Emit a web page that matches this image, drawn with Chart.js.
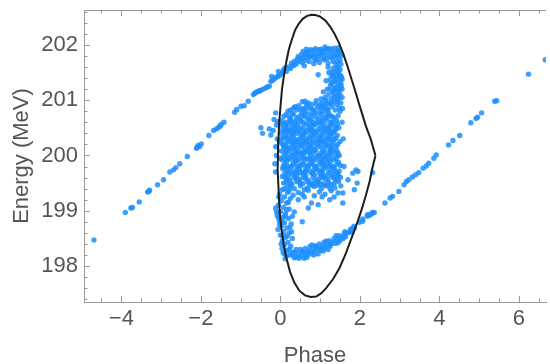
<!DOCTYPE html>
<html lang="en">
<head>
<meta charset="UTF-8">
<title>Phase space</title>
<script src="https://cdn.jsdelivr.net/npm/chart.js"></script>
<style>
  body { margin: 0; background: #fff; }
  #chart { display: block; }
</style>
</head>
<body>
<canvas id="chart" width="550" height="364"></canvas>
<script>
// axis ticks
const xTickLabels = [-4, -2, 0, 2, 4, 6];
const yTickLabels = [198, 199, 200, 201, 202];

// separatrix (black closed curve)
const separatrix = [
  [2.39,200.0],[2.27,200.3],[2.15,200.53],[2.07,200.72],[1.97,200.95],[1.88,201.17],[1.78,201.4],
  [1.68,201.63],[1.58,201.84],[1.47,202.04],[1.36,202.2],[1.25,202.33],[1.13,202.44],[1.0,202.51],
  [0.88,202.54],[0.78,202.545],[0.66,202.52],[0.56,202.47],[0.46,202.38],[0.37,202.27],[0.29,202.1],
  [0.21,201.91],[0.15,201.7],[0.09,201.45],[0.04,201.2],[0.01,200.95],[-0.03,200.6],[-0.05,200.3],
  [-0.06,200.0],[-0.07,199.75],[-0.05,199.45],[-0.03,199.15],[-0.01,198.9],[0.03,198.65],
  [0.08,198.4],[0.15,198.15],[0.24,197.9],[0.35,197.7],[0.48,197.55],[0.62,197.47],[0.76,197.44],
  [0.9,197.45],[1.03,197.51],[1.15,197.6],[1.33,197.77],[1.49,197.97],[1.63,198.2],[1.76,198.45],
  [1.86,198.64],[1.96,198.84],[2.06,199.06],[2.15,199.28],[2.24,199.52],[2.31,199.76],[2.39,200.0]
];

// particles: long arm on the left
const leftArm = [
  [-4.69,198.47],[-3.90,198.97],[-3.76,199.05],[-3.72,199.06],[-3.55,199.16],[-3.34,199.34],[-3.31,199.35],
  [-3.29,199.37],[-3.09,199.47],[-2.94,199.56],[-2.78,199.70],[-2.69,199.74],[-2.63,199.78],[-2.53,199.85],
  [-2.34,199.98],[-2.11,200.13],[-2.09,200.15],[-2.07,200.18],[-2.03,200.16],[-1.99,200.21],[-1.80,200.36],
  [-1.68,200.45],[-1.61,200.48],[-1.55,200.51],[-1.52,200.53],[-1.49,200.56],[-1.42,200.60],[-1.15,200.78],
  [-1.10,200.83],[-0.99,200.89],[-0.91,200.90],[-0.81,200.98],[-0.68,201.10],[-0.65,201.12],[-0.62,201.14],
  [-0.58,201.15],[-0.55,201.16],[-0.52,201.17],[-0.49,201.18],[-0.43,201.20],[-0.37,201.22],[-0.33,201.24],
  [-0.28,201.25],[-0.24,201.34],[-0.20,201.36],[-0.16,201.38],[-0.11,201.41],[-0.07,201.43],[-0.03,201.44],
  [0.01,201.47]
];

// particles: long arm on the right
const rightArm = [
  [1.74,198.61],[1.76,198.66],[1.78,198.63],[1.80,198.62],[1.81,198.68],[1.85,198.72],[1.86,198.69],
  [1.99,198.79],[2.07,198.81],[2.07,198.85],[2.19,198.90],[2.19,198.93],[2.24,198.92],[2.28,198.94],
  [2.30,198.95],[2.32,198.97],[2.36,198.97],[2.63,199.14],[2.76,199.23],[2.82,199.26],[2.98,199.35],
  [3.11,199.47],[3.17,199.53],[3.23,199.56],[3.32,199.61],[3.40,199.65],[3.48,199.69],[3.59,199.77],
  [3.67,199.81],[3.73,199.86],[3.86,199.95],[3.92,200.01],[4.23,200.19],[4.34,200.27],[4.51,200.36],
  [4.79,200.59],[4.92,200.67],[4.96,200.69],[5.06,200.77],[5.39,200.98],[5.44,200.99],[6.24,201.47],
  [6.66,201.73]
];

// particles: upper arc inside the bucket
const topArc = [
  [-0.22,201.43],[-0.05,201.52],[0.05,201.5],[0.08,201.55],[0.12,201.58],[0.15,201.52],[0.2,201.6],
  [0.25,201.57],[0.28,201.67],[0.3,201.62],[0.35,201.7],[0.35,201.63],[0.4,201.66],[0.42,201.74],
  [0.45,201.79],[0.48,201.7],[0.5,201.76],[0.53,201.82],[0.55,201.68],[0.57,201.88],[0.58,201.77],
  [0.6,201.62],[0.62,201.72],[0.62,201.84],[0.65,201.92],[0.66,201.84],[0.68,201.78],[0.7,201.88],
  [0.72,201.7],[0.74,201.79],[0.76,201.91],[0.78,201.85],[0.8,201.78],[0.82,201.9],[0.84,201.66],
  [0.86,201.8],[0.87,201.73],[0.88,201.93],[0.9,201.86],[0.92,201.73],[0.94,201.8],[0.97,201.91],
  [0.98,201.68],[1.0,201.84],[1.02,201.92],[1.04,201.76],[1.05,201.83],[1.07,201.88],[1.1,201.73],
  [1.11,201.91],[1.12,201.96],[1.14,201.82],[1.16,201.75],[1.18,201.93],[1.2,201.67],[1.22,201.86],
  [1.23,201.93],[1.25,201.78],[1.28,201.92],[1.3,201.76],[1.31,201.84],[1.33,201.7],[1.36,201.94],
  [1.36,201.8],[1.39,201.88],[1.41,201.78],[1.43,201.7],[1.44,201.9],[1.45,201.58],[1.46,201.95],
  [1.47,201.83],[1.49,201.88],[1.5,201.72],[1.52,201.8],[1.52,201.65],[0.95,201.46]
];

// particles: column on the right side of the bucket, above the core
const rightColumn = [
  [1.45,201.52],[1.38,201.5],[1.5,201.45],[1.42,201.42],[1.33,201.44],[1.48,201.36],[1.4,201.33],
  [1.52,201.3],[1.3,201.3],[1.45,201.27],[1.36,201.22],[1.5,201.2],[1.24,201.2],[1.42,201.16],
  [1.31,201.13],[1.5,201.1],[1.2,201.1],[1.38,201.07],[1.46,201.02],[1.27,201.02],[1.14,201.0],
  [1.35,200.97],[1.52,200.95],[1.22,200.93],[1.42,200.92],[1.3,200.88],[1.1,200.9],[1.48,200.86],
  [1.18,200.84],[1.38,200.82],[1.55,201.38],[1.25,201.37],[1.44,201.6],[1.34,201.58],
  [1.12,201.05],[1.18,201.2],[1.15,201.35],[1.22,201.5],[1.28,201.45],[1.35,201.35],[1.26,201.28],
  [1.33,201.16],[1.4,201.22],[1.47,201.15],[1.55,201.05],[1.44,201.08],[1.28,200.95],[1.34,201.05],
  [1.52,201.4],[1.55,201.2],[1.47,201.47],[1.38,201.4],[1.3,201.52],[1.5,201.55],[1.08,201.15],
  [1.16,200.95],[1.02,201.02],[1.2,201.6],[1.4,201.65],[1.56,200.85],[1.5,200.8],[1.43,200.98],
  [1.53,201.43],[1.53,201.25],[0.62,200.98],[0.70,200.95]
];

// particles: dense core of the bucket
const core = [
  [0.55,200.97],[0.79,200.92],[0.9,200.99],[1.04,200.95],[0.33,200.86],[0.46,200.9],[0.57,200.84],
  [0.7,200.88],[0.81,200.83],[0.94,200.87],[1.02,200.84],[0.19,200.8],[0.3,200.76],[0.4,200.82],
  [0.53,200.77],[0.64,200.8],[0.74,200.75],[0.87,200.81],[0.98,200.77],[1.09,200.8],[1.21,200.76],
  [0.09,200.71],[0.23,200.69],[0.33,200.74],[0.46,200.7],[0.56,200.73],[0.69,200.67],[0.8,200.72],
  [0.9,200.69],[1.03,200.74],[1.13,200.68],[1.26,200.72],[1.35,200.67],[1.45,200.72],[0.04,200.63],
  [0.16,200.6],[0.25,200.66],[0.38,200.61],[0.5,200.65],[0.59,200.59],[0.73,200.64],[0.82,200.6],
  [0.96,200.66],[1.05,200.61],[1.18,200.64],[1.29,200.59],[1.41,200.63],[0.02,200.55],[0.13,200.52],
  [0.22,200.57],[0.35,200.53],[0.44,200.56],[0.57,200.51],[0.66,200.57],[0.79,200.53],[0.88,200.56],
  [1.01,200.52],[1.1,200.57],[1.23,200.51],[1.32,200.55],[1.43,200.57],[0.06,200.47],[0.15,200.44],
  [0.28,200.49],[0.38,200.45],[0.51,200.48],[0.6,200.43],[0.73,200.49],[0.82,200.45],[0.95,200.47],
  [1.04,200.44],[1.17,200.49],[1.26,200.45],[1.39,200.47],[0.01,200.4],[0.12,200.36],[0.21,200.41],
  [0.34,200.37],[0.43,200.4],[0.56,200.35],[0.65,200.41],[0.78,200.37],[0.87,200.4],[1.0,200.36],
  [1.09,200.41],[1.22,200.37],[1.31,200.4],[1.43,200.36],[0.07,200.32],[0.16,200.28],[0.29,200.33],
  [0.38,200.29],[0.51,200.32],[0.6,200.27],[0.73,200.33],[0.82,200.29],[0.95,200.32],[1.04,200.28],
  [1.17,200.33],[1.26,200.29],[1.39,200.31],[0.02,200.24],[0.13,200.2],[0.22,200.25],[0.35,200.21],
  [0.44,200.24],[0.57,200.19],[0.66,200.25],[0.79,200.21],[0.88,200.24],[1.01,200.2],[1.1,200.25],
  [1.23,200.21],[1.32,200.24],[1.44,200.2],[0.08,200.16],[0.17,200.12],[0.3,200.17],[0.39,200.13],
  [0.52,200.16],[0.61,200.11],[0.74,200.17],[0.83,200.13],[0.96,200.16],[1.05,200.12],[1.18,200.17],
  [1.27,200.13],[1.4,200.16],[0.03,200.08],[0.14,200.04],[0.23,200.09],[0.36,200.05],[0.45,200.08],
  [0.58,200.03],[0.67,200.09],[0.8,200.05],[0.89,200.08],[1.02,200.04],[1.11,200.09],[1.24,200.05],
  [1.33,200.08],[1.45,200.04],[0.09,200.0],[0.18,199.96],[0.31,200.01],[0.4,199.97],[0.53,200.0],
  [0.62,199.95],[0.75,200.01],[0.84,199.97],[0.97,200.0],[1.06,199.96],[1.19,200.01],[1.28,199.97],
  [1.41,200.0],[0.04,199.92],[0.15,199.88],[0.24,199.93],[0.37,199.89],[0.46,199.92],[0.59,199.87],
  [0.68,199.93],[0.81,199.89],[0.9,199.92],[1.03,199.88],[1.12,199.93],[1.25,199.89],[1.34,199.92],
  [1.46,199.88],[0.1,199.84],[0.19,199.8],[0.32,199.85],[0.41,199.81],[0.54,199.84],[0.63,199.79],
  [0.76,199.85],[0.85,199.81],[0.98,199.84],[1.07,199.8],[1.2,199.85],[1.29,199.81],[1.42,199.84],
  [0.06,199.76],[0.17,199.72],[0.26,199.77],[0.39,199.73],[0.48,199.76],[0.61,199.71],[0.7,199.77],
  [0.83,199.73],[0.92,199.76],[1.05,199.72],[1.14,199.77],[1.27,199.73],[1.36,199.76],[1.48,199.72],
  [0.11,199.68],[0.2,199.64],[0.33,199.69],[0.42,199.65],[0.55,199.68],[0.64,199.63],[0.77,199.69],
  [0.86,199.65],[0.99,199.68],[1.08,199.64],[1.21,199.69],[1.3,199.65],[1.43,199.68],[0.12,199.6],
  [0.24,199.56],[0.35,199.61],[0.48,199.57],[0.58,199.6],[0.71,199.55],[0.82,199.61],[0.95,199.57],
  [1.06,199.6],[1.19,199.56],[1.3,199.61],[1.43,199.57],[1.51,199.6],[0.15,199.52],[0.29,199.48],
  [0.41,199.53],[0.56,199.49],[0.68,199.52],[0.81,199.47],[0.93,199.53],[1.08,199.49],[1.2,199.52],
  [1.35,199.48],[1.46,199.53],[0.18,199.44],[0.35,199.4],[0.5,199.45],[0.67,199.41],[0.85,199.44],
  [1.03,199.4],[1.19,199.45],[1.37,199.41],[0.22,199.36],[0.45,199.33],[0.7,199.37],[0.98,199.34],
  [1.28,199.36],[1.45,199.32]
];

// particles: extra core points between the rows above
const coreFill = [
  [0.27,200.62],[0.61,200.7],[0.93,200.6],[1.17,200.72],[0.41,200.52],[0.76,200.45],[1.09,200.5],
  [0.18,200.33],[0.52,200.4],[0.85,200.35],[1.21,200.43],[0.31,200.22],[0.64,200.3],[1.0,200.26],
  [1.35,200.29],[0.11,200.12],[0.46,200.18],[0.79,200.1],[1.13,200.19],[0.27,200.0],[0.6,200.06],
  [0.93,199.99],[1.25,200.1],[0.4,199.9],[0.74,199.94],[1.08,199.86],[0.14,199.78],[0.5,199.82],
  [0.9,199.75],[1.23,199.8],[0.3,199.66],[0.66,199.72],[1.02,199.62],[1.38,199.7],[0.45,199.55],
  [0.77,199.5],[1.12,199.45],[0.25,199.43],[0.6,199.38],[0.92,199.46],[1.25,199.4],[0.37,200.88],
  [0.66,200.92],[0.86,200.76],[1.12,200.86],[0.15,200.5],[0.02,200.3],[0.0,199.95],[0.05,199.62],
  [0.08,199.5],[1.47,200.5],[1.5,200.25],[1.48,200.0],[1.51,199.82],[1.52,199.45],[0.21,199.95],
  [0.55,200.22],[0.83,200.55],[1.28,200.6],[0.35,200.45],[0.7,200.15],[1.16,199.98],[0.48,199.7],
  [0.97,199.52],[1.33,200.43],[0.6,200.85],[0.99,200.9],[0.2,200.15],[0.42,200.03],[0.73,199.83],
  [1.05,199.7],[1.38,199.55],[0.1,199.4],[0.32,199.28],[0.55,199.3],[0.85,199.27],[1.12,199.3],
  [1.35,199.25],
  [0.08,200.58],[0.31,200.58],[0.52,200.61],[0.72,200.55],[0.99,200.6],[1.24,200.55],[1.4,200.52],
  [0.1,200.44],[0.24,200.45],[0.45,200.44],[0.67,200.46],[0.91,200.43],[1.14,200.44],[1.36,200.44],
  [0.06,200.2],[0.26,200.28],[0.41,200.26],[0.74,200.27],[0.92,200.2],[1.14,200.27],[1.3,200.18],
  [0.16,200.07],[0.33,200.12],[0.51,200.05],[0.7,200.06],[0.86,200.1],[1.08,200.04],[1.29,200.04],
  [1.42,200.09],[0.12,199.93],[0.35,199.94],[0.56,199.95],[0.78,199.91],[1.0,199.93],[1.2,199.92],
  [1.4,199.94],[0.07,199.8],[0.28,199.81],[0.46,199.78],[0.68,199.81],[0.88,199.8],[1.11,199.82],
  [1.34,199.79],[0.22,199.7],[0.4,199.69],[0.59,199.66],[0.8,199.68],[1.0,199.72],[1.18,199.64],
  [1.46,199.64],[0.17,199.57],[0.39,199.57],[0.64,199.58],[0.87,199.55],[1.13,199.58],[1.36,199.6],
  [0.24,199.5],[0.49,199.5],[0.74,199.46],[1.0,199.47],[1.27,199.48],[0.15,200.74],[0.4,200.66],
  [0.62,200.75],[0.77,200.64],[1.07,200.67],[1.31,200.7],[0.25,200.82],[0.5,200.83],[0.76,200.85],
  [1.05,200.89],[1.2,200.82],[0.9,200.93],[0.3,200.39],[0.58,200.37],[0.8,200.43],[1.05,200.35],
  [1.27,200.36],[0.48,200.29],[0.68,200.2],[0.97,200.28],[1.21,200.3]
];

// particles: column down the left side and lower arc
const lowerArc = [
  [0.05,199.38],[0.18,199.33],[-0.02,199.3],[0.1,199.25],[0.25,199.22],[0.02,199.18],[0.15,199.14],
  [-0.05,199.1],[0.08,199.06],[0.22,199.03],[0.0,198.98],[0.13,198.95],[-0.08,198.92],[0.06,198.88],
  [0.2,198.86],[-0.03,198.82],[0.1,198.78],[0.27,198.76],[0.02,198.72],[0.16,198.69],[-0.06,198.66],
  [0.08,198.62],[0.22,198.6],[0.0,198.56],[0.13,198.52],[0.3,198.5],[0.05,198.46],[0.19,198.43],
  [0.1,198.38],[0.26,198.36],[0.04,198.32],[0.17,198.28],[0.1,198.22],[0.24,198.2],[0.12,198.13],
  [0.3,198.25],[-0.1,198.98],[-0.12,199.05],
  [-0.04,199.25],[0.2,199.15],[0.12,198.9],[-0.02,198.75],[0.24,198.7],[0.05,198.55],[0.18,198.55],
  [0.28,198.62],[0.02,198.4],[0.22,198.3],[0.15,198.18],[0.07,198.25],[-0.05,198.88],[0.16,199.02],
  [0.04,198.8],[0.3,198.9],
  [0.3,198.2],[0.36,198.25],[0.4,198.16],[0.45,198.22],[0.5,198.3],[0.52,198.18],[0.57,198.24],
  [0.62,198.32],[0.64,198.2],[0.69,198.27],[0.74,198.35],[0.76,198.22],[0.81,198.3],[0.86,198.26],
  [0.88,198.37],[0.93,198.31],[0.98,198.4],[1.0,198.28],[1.05,198.36],[1.1,198.43],[1.12,198.33],
  [1.17,198.39],[1.22,198.46],[1.25,198.36],[1.3,198.43],[1.35,198.5],[1.38,198.41],[1.43,198.48],
  [1.48,198.55],[1.5,198.46],[1.55,198.52],[1.6,198.58],[1.64,198.53],[1.68,198.6],[0.4,198.3],
  [0.6,198.14],[0.95,198.22],[1.2,198.3],
  [0.35,198.15],[0.47,198.14],[0.55,198.27],[0.67,198.16],[0.72,198.25],[0.84,198.2],[0.91,198.35],
  [1.03,198.3],[1.15,198.45],[1.27,198.4],[1.4,198.55],[1.45,198.42],[1.58,198.5],[1.62,198.62],
  [0.79,198.38],[1.08,198.27]
];

// scattered particles around the core
const strays = [
  [-0.49,200.50],[-0.45,200.40],[-0.28,200.48],[-0.24,200.37],[-0.12,200.16],[-0.07,200.61],
  [-0.12,200.77],[-0.16,200.65],[-0.1,200.55],[-0.18,200.45],[-0.1,200.0],[-0.14,199.85],
  [-0.08,200.3],[-0.12,199.7],
  [0.70,199.05],[0.78,199.14],[1.57,199.14],[1.24,199.2],[0.95,199.11],[0.45,199.2],[0.35,198.98],
  [0.55,198.8],[1.05,199.25],[0.6,199.25],
  [1.90,199.74],[1.93,199.5],[1.70,199.56],[1.86,199.38],[1.57,199.32],[1.95,199.71],[2.32,199.69],
  [1.82,199.68],[1.6,199.8],[1.58,200.3],[1.55,200.6]
];

const particles = [...leftArm, ...rightArm, ...topArc, ...rightColumn, ...core, ...coreFill,
  ...lowerArc, ...strays].map(([x, y]) => ({ x, y }));

const FONT = 'Liberation Sans, Arial, Helvetica, sans-serif';
const TEXT = '#555';
const FRAME = '#9a9a9a';

// Mathematica-style frame: inward ticks, minor ticks, top frame line
const frameTicks = {
  id: 'frameTicks',
  afterDraw(chart) {
    const { ctx, chartArea: a, scales: { x, y } } = chart;
    ctx.save();
    ctx.strokeStyle = FRAME;
    ctx.lineWidth = 1;
    ctx.beginPath();
    ctx.moveTo(a.left, a.top + 0.5);
    ctx.lineTo(a.right, a.top + 0.5);
    for (let v = -4.5; v <= 6.5; v += 0.5) {
      const px = Math.round(x.getPixelForValue(v)) + 0.5;
      const len = xTickLabels.includes(v) ? 6 : 3.5;
      ctx.moveTo(px, a.bottom); ctx.lineTo(px, a.bottom - len);
      ctx.moveTo(px, a.top); ctx.lineTo(px, a.top + len);
    }
    for (let i = 0; i <= 26; i++) {
      const v = 197.4 + i * 0.2;
      const py = Math.round(y.getPixelForValue(v)) + 0.5;
      const major = yTickLabels.some(t => Math.abs(t - v) < 1e-6);
      ctx.moveTo(a.left, py); ctx.lineTo(a.left + (major ? 6 : 3.5), py);
    }
    ctx.stroke();
    ctx.restore();
  }
};

new Chart(document.getElementById('chart'), {
  type: 'scatter',
  data: {
    datasets: [
      {
        data: separatrix.map(([x, y]) => ({ x, y })),
        showLine: true,
        borderColor: '#1e1e1e',
        borderWidth: 2,
        pointRadius: 0,
        tension: 0,
        fill: false
      },
      {
        data: particles,
        pointRadius: 2.7,
        pointBackgroundColor: 'rgba(28,142,255,0.85)',
        pointBorderWidth: 0
      }
    ]
  },
  options: {
    responsive: false,
    animation: false,
    layout: { padding: { top: 10, right: 0, left: 0, bottom: 0 } },
    plugins: { legend: { display: false }, tooltip: { enabled: false } },
    scales: {
      x: {
        type: 'linear',
        min: -4.94,
        max: 6.68,
        afterBuildTicks: s => { s.ticks = xTickLabels.map(v => ({ value: v })); },
        afterFit: s => { s.height = 62; s.paddingLeft = 0; s.paddingRight = 0; },
        grid: { display: false, drawTicks: false },
        border: { color: FRAME },
        ticks: {
          color: TEXT, padding: 4,
          font: { family: FONT, size: 22 },
          callback: v => v < 0 ? '\u2212' + Math.abs(v) : String(v)
        },
        title: {
          display: true, text: 'Phase', color: TEXT,
          font: { family: FONT, size: 22 },
          padding: { top: 0, bottom: -5 }
        }
      },
      y: {
        type: 'linear',
        min: 197.35,
        max: 202.63,
        afterBuildTicks: s => { s.ticks = yTickLabels.map(v => ({ value: v })); },
        afterFit: s => { s.width = 84; s.paddingTop = 0; s.paddingBottom = 0; },
        grid: { display: false, drawTicks: false },
        border: { color: FRAME },
        ticks: {
          color: TEXT, padding: 6,
          font: { family: FONT, size: 22 }
        },
        title: {
          display: true, text: 'Energy (MeV)', color: TEXT,
          font: { family: FONT, size: 22 },
          padding: { top: 9, bottom: 0 }
        }
      }
    }
  },
  plugins: [frameTicks]
});
</script>
</body>
</html>
